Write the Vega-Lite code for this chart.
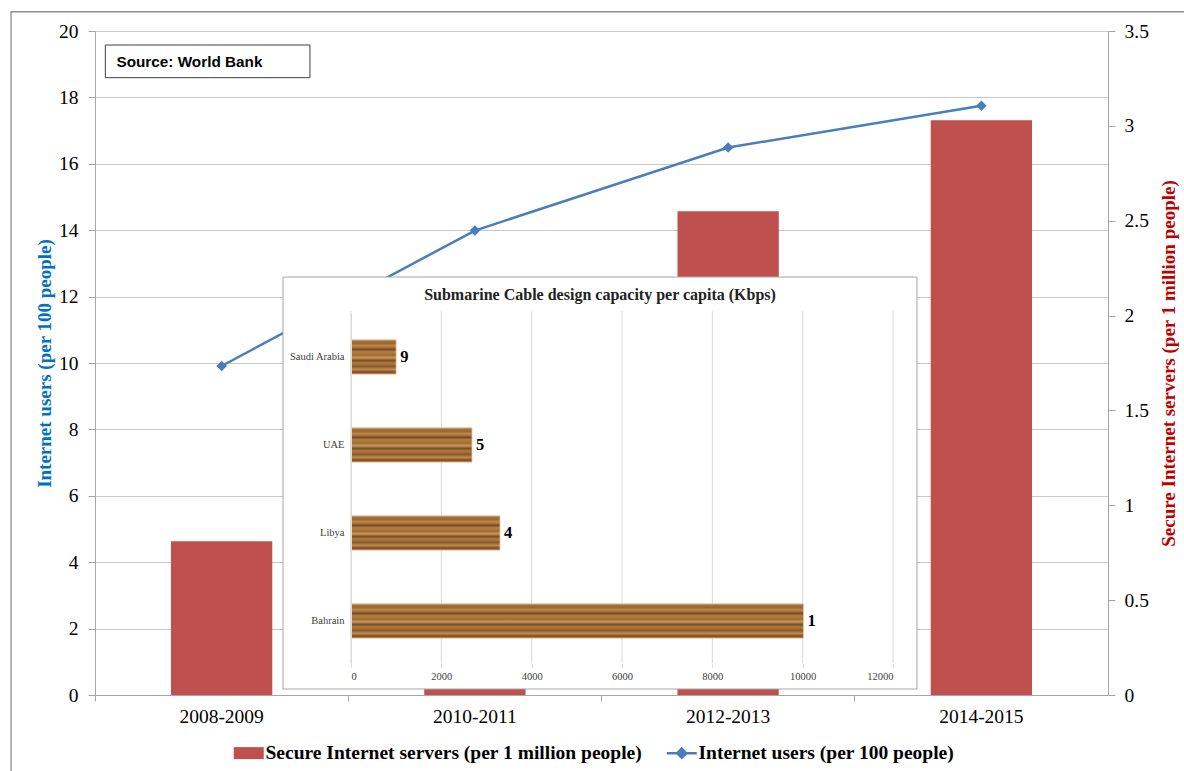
{
  "$schema": "https://vega.github.io/schema/vega-lite/v6.json",
  "autosize": {"type": "none"},
  "width": 1013,
  "height": 664,
  "padding": {"left": 95, "top": 31, "right": 76, "bottom": 76},
  "background": "white",
  "config": {
    "view": {"stroke": null},
    "font": "Liberation Serif",
    "axis": {
      "labelFont": "Liberation Serif",
      "labelColor": "#000000",
      "labelFontSize": 19.5,
      "domainColor": "#a6a6a6",
      "tickColor": "#a6a6a6",
      "gridColor": "#c8c8c8",
      "titleFont": "Liberation Serif"
    }
  },
  "datasets": {
    "main": [
      {"period": "2008-2009", "servers": 0.81, "users": 9.91},
      {"period": "2010-2011", "servers": 1.7, "users": 13.99},
      {"period": "2012-2013", "servers": 2.55, "users": 16.49},
      {"period": "2014-2015", "servers": 3.03, "users": 17.75}
    ],
    "cable": [
      {"country": "Saudi Arabia", "kbps": 1000, "rank": 9},
      {"country": "UAE", "kbps": 2680, "rank": 5},
      {"country": "Libya", "kbps": 3300, "rank": 4},
      {"country": "Bahrain", "kbps": 10020, "rank": 1}
    ],
    "cableTicks": [
      {"kbps": 0}, {"kbps": 2000}, {"kbps": 4000}, {"kbps": 6000},
      {"kbps": 8000}, {"kbps": 10000}, {"kbps": 12000}
    ]
  },
  "layer": [
    {
      "data": {"name": "main"},
      "mark": {"type": "bar"},
      "encoding": {
        "x": {
          "field": "period", "type": "nominal", "sort": null,
          "scale": {"type": "band", "paddingInner": 0.6, "paddingOuter": 0.3},
          "axis": {
            "orient": "bottom", "title": null, "labelAngle": 0, "labelPadding": 6,
            "tickSize": 6, "bandPosition": -0.75, "grid": false
          }
        },
        "y": {
          "field": "servers", "type": "quantitative",
          "scale": {"domain": [0, 3.5], "nice": false, "zero": true},
          "axis": {
            "orient": "right", "values": [0, 0.5, 1, 1.5, 2, 2.5, 3, 3.5], "format": "~g",
            "grid": false, "tickSize": 7, "labelPadding": 9,
            "title": "Secure Internet servers (per 1 million people)",
            "titleColor": "#c00000", "titleFontWeight": "bold", "titleFontSize": 19,
            "titleAngle": 270, "titleX": 60, "titleY": 332, "titleBaseline": "middle", "titleAlign": "center"
          }
        },
        "color": {
          "datum": "Secure Internet servers (per 1 million people)", "type": "nominal",
          "scale": {
            "domain": ["Secure Internet servers (per 1 million people)", "Internet users (per 100 people)"],
            "range": ["#c0504d", "#4a7ebb"]
          },
          "legend": {
            "orient": "none", "legendX": 144, "legendY": 712, "direction": "horizontal",
            "title": null, "labelFont": "Liberation Serif", "labelFontSize": 19.5, "labelFontWeight": "bold",
            "labelColor": "#000000", "labelLimit": 0, "symbolSize": 900, "labelOffset": 7, "columnPadding": 18,
            "encode": {
              "symbols": {
                "update": {
                  "shape": {"signal": "datum.value == 'Internet users (per 100 people)' ? 'M-1,0H1M0,-0.3L0.3,0L0,0.3L-0.3,0Z' : 'M-1,-0.4H1V0.4H-1Z'"},
                  "fill": {"signal": "datum.value == 'Internet users (per 100 people)' ? '#4a7ebb' : '#c0504d'"},
                  "stroke": {"signal": "datum.value == 'Internet users (per 100 people)' ? '#4a7ebb' : '#c0504d'"},
                  "strokeWidth": {"signal": "datum.value == 'Internet users (per 100 people)' ? 2.5 : 0"},
                  "opacity": {"value": 1}
                }
              }
            }
          }
        }
      }
    },
    {
      "data": {"name": "main"},
      "encoding": {
        "x": {"field": "period", "type": "nominal", "sort": null, "scale": {"type": "point", "padding": 0.5}, "axis": null},
        "y": {
          "field": "users", "type": "quantitative",
          "scale": {"domain": [0, 20], "nice": false},
          "axis": {
            "orient": "left", "values": [0, 2, 4, 6, 8, 10, 12, 14, 16, 18, 20],
            "grid": true, "tickSize": 7, "labelPadding": 10,
            "title": "Internet users (per 100 people)",
            "titleColor": "#0070c0", "titleFontWeight": "bold", "titleFontSize": 19,
            "titleAngle": 270, "titleX": -51, "titleY": 332, "titleBaseline": "middle", "titleAlign": "center"
          }
        },
        "color": {"datum": "Internet users (per 100 people)", "type": "nominal"}
      },
      "layer": [
        {"mark": {"type": "line", "strokeWidth": 2.5}},
        {"mark": {"type": "point", "shape": "diamond", "filled": true, "size": 110, "opacity": 1}}
      ]
    },
    {
      "data": {"values": [{}]},
      "encoding": {
        "x": {"datum": 0.0102, "type": "quantitative", "scale": {"domain": [0, 1], "nice": false, "zero": false}, "axis": null},
        "x2": {"datum": 0.2122},
        "y": {"datum": 0.9789, "type": "quantitative", "scale": {"domain": [0, 1], "nice": false, "zero": false}, "axis": null},
        "y2": {"datum": 0.9297}
      },
      "layer": [
        {"mark": {"type": "rect", "fill": "white", "stroke": "#404040", "strokeWidth": 1}},
        {
          "mark": {"type": "rect", "fill": null, "stroke": "#8c8c8c", "strokeWidth": 1.3},
          "encoding": {
            "x": {"datum": -0.0829, "type": "quantitative", "scale": {"domain": [0, 1], "nice": false, "zero": false}, "axis": null},
            "x2": {"datum": 1.3},
            "y": {"datum": 1.029, "type": "quantitative", "scale": {"domain": [0, 1], "nice": false, "zero": false}, "axis": null},
            "y2": {"datum": -0.4}
          }
        },
        {
          "mark": {"type": "text", "font": "Liberation Sans", "fontWeight": "bold", "fontSize": 15.3, "align": "left", "baseline": "middle", "color": "#000000"},
          "encoding": {
            "x": {"datum": 0.0212, "type": "quantitative", "scale": {"domain": [0, 1], "nice": false, "zero": false}, "axis": null},
            "y": {"datum": 0.954, "type": "quantitative", "scale": {"domain": [0, 1], "nice": false, "zero": false}, "axis": null},
            "x2": null, "y2": null,
            "text": {"value": "Source: World Bank"}
          }
        }
      ]
    },
    {
      "resolve": {"scale": {"y": "independent"}, "axis": {"x": "independent", "y": "independent"}},
      "layer": [
        {
          "layer": [
            {
              "data": {"values": [{}]},
              "mark": {"type": "rect", "fill": "white", "stroke": "#a6a6a6", "strokeWidth": 1},
              "encoding": {
                "x": {"datum": -1505, "type": "quantitative", "scale": {"domain": [0, 12000], "range": [256, 798], "nice": false, "zero": false}, "axis": null},
                "x2": {"datum": 12531},
                "y": {"datum": 0, "type": "quantitative", "scale": {"domain": [0, 1], "range": [658, 246], "nice": false, "zero": false}, "axis": null},
                "y2": {"datum": 1}
              }
            },
            {
              "data": {"values": [{}]},
              "mark": {"type": "text", "font": "Liberation Serif", "fontWeight": "bold", "fontSize": 16, "align": "center", "baseline": "middle", "color": "#222222"},
              "encoding": {
                "x": {"datum": 5513, "type": "quantitative", "scale": {"domain": [0, 12000], "range": [256, 798], "nice": false, "zero": false}, "axis": null},
                "y": {"datum": 0.956, "type": "quantitative", "scale": {"domain": [0, 1], "range": [658, 246], "nice": false, "zero": false}, "axis": null},
                "text": {"value": "Submarine Cable design capacity per capita (Kbps)"}
              }
            },
            {
              "data": {"name": "cableTicks"},
              "mark": {"type": "rule", "color": "#d9d9d9", "strokeWidth": 1},
              "encoding": {
                "x": {"field": "kbps", "type": "quantitative", "scale": {"domain": [0, 12000], "range": [256, 798], "nice": false, "zero": false}, "axis": null},
                "y": {"datum": 0.063, "type": "quantitative", "scale": {"domain": [0, 1], "range": [658, 246], "nice": false, "zero": false}, "axis": null},
                "y2": {"datum": 0.9175}
              }
            }
          ]
        },
        {
          "data": {"name": "cable"},
          "encoding": {
            "x": {
              "field": "kbps", "type": "quantitative",
              "scale": {"domain": [0, 12000], "range": [256, 798], "nice": false, "zero": false},
              "axis": {
                "orient": "bottom", "offset": -31, "values": [0, 2000, 4000, 6000, 8000, 10000, 12000], "format": "d",
                "grid": false, "domain": false, "ticks": true, "tickSize": 3, "tickColor": "#d9d9d9",
                "labelFontSize": 10.5, "labelColor": "#404040", "labelPadding": 4, "title": null, "zindex": 1
              }
            },
            "y": {
              "field": "country", "type": "nominal", "sort": null,
              "scale": {"type": "band", "range": [282, 634], "paddingInner": 0.61, "paddingOuter": 0.305},
              "axis": {
                "orient": "left", "offset": -256, "title": null, "grid": false,
                "domain": true, "domainColor": "#d9d9d9", "ticks": false,
                "labelFontSize": 10.5, "labelColor": "#404040", "labelPadding": 7, "zindex": 1
              }
            }
          },
          "layer": [
            {
              "mark": {
                "type": "bar",
                "stroke": "#e8d3ae", "strokeWidth": 0.8,
                "fill": {
                  "gradient": "linear", "x1": 0, "y1": 0, "x2": 0, "y2": 1,
                  "stops": [
                    {"offset": 0, "color": "#b07a40"},
                    {"offset": 0.1, "color": "#9a6532"},
                    {"offset": 0.18, "color": "#c08a4a"},
                    {"offset": 0.28, "color": "#7d4b25"},
                    {"offset": 0.35, "color": "#b58045"},
                    {"offset": 0.45, "color": "#a06a35"},
                    {"offset": 0.52, "color": "#c89a55"},
                    {"offset": 0.6, "color": "#804d27"},
                    {"offset": 0.68, "color": "#b07a40"},
                    {"offset": 0.78, "color": "#8a5a2d"},
                    {"offset": 0.86, "color": "#c28d4c"},
                    {"offset": 0.94, "color": "#7a4a24"},
                    {"offset": 1, "color": "#a8743a"}
                  ]
                }
              }
            },
            {
              "mark": {"type": "text", "align": "left", "baseline": "middle", "dx": 4, "font": "Liberation Serif", "fontWeight": "bold", "fontSize": 16.5, "color": "#000000"},
              "encoding": {"text": {"field": "rank", "type": "quantitative"}}
            }
          ]
        }
      ]
    }
  ],
  "resolve": {
    "scale": {"x": "independent", "y": "independent"},
    "axis": {"x": "independent", "y": "independent"}
  }
}
